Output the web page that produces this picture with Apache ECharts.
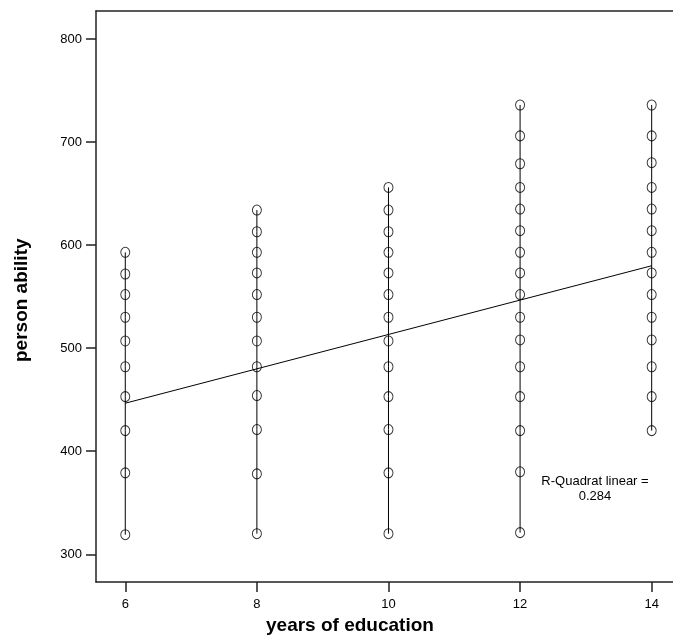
<!DOCTYPE html>
<html>
<head>
<meta charset="utf-8">
<script src="https://cdn.jsdelivr.net/npm/echarts@6/dist/echarts.min.js"></script>
<style>
html,body{margin:0;padding:0;background:#fff;}
#chart{width:673px;height:640px;}
</style>
</head>
<body>
<div id="chart"></div>
<script>
var years = [6, 8, 10, 12, 14];
var ability6 = [319, 379, 420, 453, 482, 507, 530, 552, 572, 593];
var ability8 = [320, 378, 421, 454, 482, 507, 530, 552, 573, 593, 613, 634];
var ability10 = [320, 379, 421, 453, 482, 507, 530, 552, 573, 593, 613, 634, 656];
var ability12 = [321, 380, 420, 453, 482, 508, 530, 552, 573, 593, 614, 635, 656, 679, 706, 736];
var ability14 = [420, 453, 482, 508, 530, 552, 573, 593, 614, 635, 656, 680, 706, 736];
var fitX = [6, 14];
var fitY = [446.6, 580];
var xTicks = [6, 8, 10, 12, 14];
var yTicks = [300, 400, 500, 600, 700, 800];
var rsqText = 'R-Quadrat linear =\n0.284';

var columns = [ability6, ability8, ability10, ability12, ability14];
var series = [];
columns.forEach(function (col, i) {
  var pts = col.map(function (v) { return [years[i], v]; });
  series.push({
    type: 'line', data: pts, symbol: 'none', silent: true,
    lineStyle: { color: '#000', width: 1 }, z: 2
  });
  series.push({
    type: 'scatter', data: pts, symbol: 'circle', symbolSize: [9, 10],
    itemStyle: { color: 'rgba(0,0,0,0)', borderColor: '#000', borderWidth: 1 }, z: 3
  });
});
series.push({
  type: 'line', data: fitX.map(function (x, i) { return [x, fitY[i]]; }),
  symbol: 'none', lineStyle: { color: '#000', width: 1 }, z: 4
});

var font = '"Liberation Sans", Arial, sans-serif';
var chart = echarts.init(document.getElementById('chart'));
chart.setOption({
  animation: false,
  backgroundColor: '#fff',
  grid: { left: 96, right: 0, top: 11, bottom: 58 },
  xAxis: [{
    type: 'value', min: 5.555, max: 14.324, position: 'bottom',
    axisLine: { show: true, lineStyle: { color: '#222', width: 1.5 } },
    axisTick: { show: true, inside: false, length: 10, customValues: xTicks, lineStyle: { color: '#222', width: 1.5 } },
    axisLabel: { customValues: xTicks, color: '#000', fontFamily: font, fontSize: 13, margin: 16 },
    splitLine: { show: false }
  }, {
    type: 'value', min: 5.555, max: 14.324, position: 'top',
    axisLine: { show: true, lineStyle: { color: '#222', width: 1.5 } },
    axisTick: { show: false }, axisLabel: { show: false }, splitLine: { show: false }
  }],
  yAxis: {
    type: 'value', min: 273.1, max: 827.2,
    axisLine: { show: true, lineStyle: { color: '#222', width: 1.5 } },
    axisTick: { show: true, inside: false, length: 10, customValues: yTicks, lineStyle: { color: '#222', width: 1.5 } },
    axisLabel: { customValues: yTicks, color: '#000', fontFamily: font, fontSize: 13, margin: 14 },
    splitLine: { show: false }
  },
  graphic: [
    { type: 'text', left: 266, top: 616, style: { text: 'years of education', font: 'bold 19px ' + font, fill: '#000' } },
    { type: 'text', x: 12, y: 362, rotation: Math.PI / 2, style: { text: 'person ability', font: 'bold 19px ' + font, fill: '#000' } },
    { type: 'text', x: 595, y: 474, style: { text: rsqText, font: '13px ' + font, fill: '#000', align: 'center', lineHeight: 15 } }
  ],
  series: series
});
</script>
</body>
</html>
